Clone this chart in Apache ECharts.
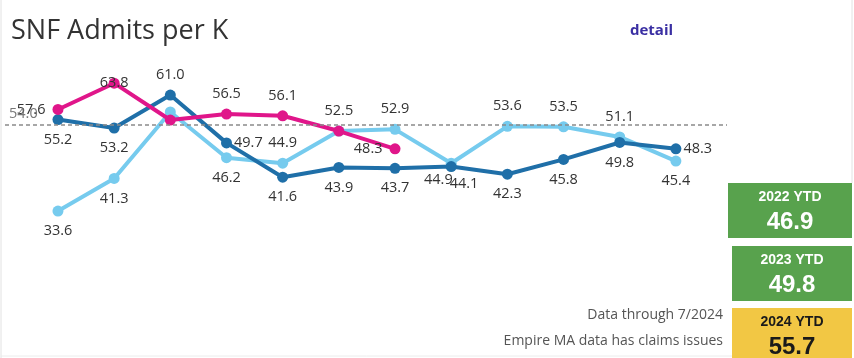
<!DOCTYPE html>
<html><head><meta charset="utf-8">
<script src="https://cdn.jsdelivr.net/npm/echarts@6/dist/echarts.min.js"></script>
<style>html,body{margin:0;padding:0;background:#fff}#c{width:854px;height:358px}</style>
</head><body><div id="c"></div>
<script>
const months = [1,2,3,4,5,6,7,8,9,10,11,12];
const v2022 = [33.6, 41.3, 57.0, 46.2, 44.9, 52.5, 52.9, 44.9, 53.6, 53.5, 51.1, 45.4];
const v2023 = [55.2, 53.2, 61.0, 49.7, 41.6, 43.9, 43.7, 44.1, 42.3, 45.8, 49.8, 48.3];
const v2024 = [57.6, 63.8, 55.1, 56.5, 56.1, 52.5, 48.3];
const refValue = 54.0;
const ytdLabels = ['2022 YTD', '2023 YTD', '2024 YTD'];
const ytdValues = ['46.9', '49.8', '55.7'];
const titleText = 'SNF Admits per K';
const notes = ['Data through 7/2024', 'Empire MA data has claims issues'];

// label placement styles (not data)
const pos2022 = ['bottom','bottom','none','bottom','tr','top','top','bl','top','top','top','bottom'];
const pos2023 = ['bottom','bottom','top','right','bottom','bottom','bottom','br','bottom','bottom','bottom','right'];
const pos2024 = ['left','center','none','top','top','none','left'];

function build(vals, pos) {
  return vals.map((v, i) => {
    const p = pos[i];
    const item = { value: [months[i], v] };
    if (p === 'none') { item.label = { show: false }; }
    else if (p === 'bl') { item.label = { position: [7, 15], align: 'right', verticalAlign: 'top' }; }
    else if (p === 'br') { item.label = { position: [4, 15], align: 'left', verticalAlign: 'top' }; }
    else if (p === 'tr') { item.label = { position: 'top', offset: [7, 0] }; }
    else if (p === 'center') { item.label = { position: 'inside', offset: [0, -3] }; }
    else if (p === 'right') { item.label = { position: 'right', distance: 2 }; }
    else { item.label = { position: p }; }
    return item;
  });
}

const labelBase = { show: true, color: '#333', fontFamily: 'Open Sans', fontSize: 14.5, distance: 7,
  formatter: p => p.value[1].toFixed(1) };

const chart = echarts.init(document.getElementById('c'), null, { renderer: 'canvas' });
function ser(name, vals, pos, color, z) {
  return {
    name, type: 'line', data: build(vals, pos), z,
    symbol: 'circle', symbolSize: 11,
    lineStyle: { width: 4, color }, itemStyle: { color },
    label: labelBase, labelLayout: { hideOverlap: false }, animation: false
  };
}
const s22 = ser('2022', v2022, pos2022, '#76cbee', 2);
s22.markLine = {
  silent: true, symbol: 'none', animation: false,
  lineStyle: { color: '#8a8a8a', type: [4, 3], width: 1.5 },
  label: { show: true, position: 'insideStartTop', formatter: refValue.toFixed(1), color: '#777', fontFamily: 'Open Sans', fontSize: 14.5, distance: [4, 3] },
  data: [{ yAxis: refValue }]
};
const s23 = ser('2023', v2023, pos2023, '#1f6fa8', 3);
const s24 = ser('2024', v2024, pos2024, '#e0168a', 4);

const boxX = [728, 732, 732], boxY = [183, 246, 308], boxH = [55, 55, 50];
const boxFill = ['#58a24d', '#58a24d', '#f2c744'], boxText = ['#fff', '#fff', '#1a1a1a'];
const graphics = [
  { type: 'line', shape: { x1: 1, y1: 0, x2: 1, y2: 358 }, style: { stroke: '#e2e2e2', lineWidth: 1 } },
  { type: 'line', shape: { x1: 852, y1: 0, x2: 852, y2: 183 }, style: { stroke: '#e2e2e2', lineWidth: 1 } },
  { type: 'line', shape: { x1: 1, y1: 356, x2: 732, y2: 356 }, style: { stroke: '#ececec', lineWidth: 1 } },
  { type: 'text', left: 11, top: 18, style: { text: titleText, font: '27px "Open Sans"', fill: '#333' } },
  { type: 'text', left: 630, top: 23, style: { text: 'detail', font: 'bold 15px "Open Sans"', fill: '#3a2fa3' } },
  { type: 'text', right: 131, top: 308, style: { text: notes[0], font: '14px "Open Sans"', fill: '#555', textAlign: 'right' } },
  { type: 'text', right: 131, top: 334, style: { text: notes[1], font: '14px "Open Sans"', fill: '#555', textAlign: 'right' } }
];
ytdLabels.forEach((t, i) => {
  const w = 852 - boxX[i];
  graphics.push({ type: 'rect', shape: { x: boxX[i], y: boxY[i], width: w, height: boxH[i] }, style: { fill: boxFill[i] } });
  graphics.push({ type: 'text', x: boxX[i] + w / 2, y: boxY[i] + 14, style: { text: t, font: 'bold 14px "Liberation Sans"', fill: boxText[i], textAlign: 'center', textVerticalAlign: 'middle' } });
  graphics.push({ type: 'text', x: boxX[i] + w / 2, y: boxY[i] + 39, style: { text: ytdValues[i], font: 'bold 24px "Liberation Sans"', fill: boxText[i], textAlign: 'center', textVerticalAlign: 'middle' } });
});

chart.setOption({
  animation: false,
  grid: { left: 5, right: 127, top: 40, bottom: 119 },
  xAxis: { type: 'value', min: 0.057, max: 12.91, show: false },
  yAxis: { type: 'value', min: 27, max: 74, show: false },
  series: [s22, s23, s24],
  graphic: graphics
});
</script></body></html>
